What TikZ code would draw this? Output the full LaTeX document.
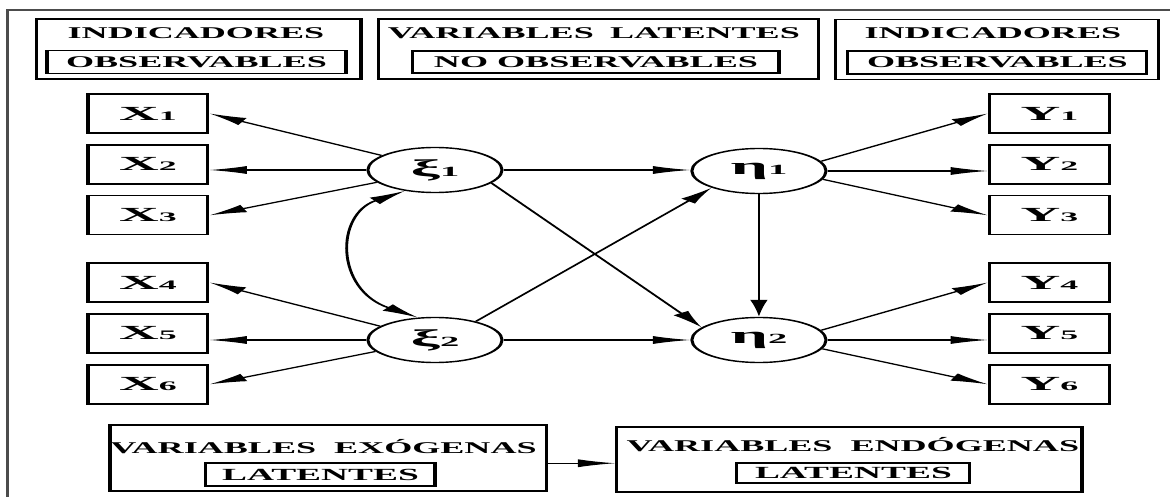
\documentclass[tikz,border=0pt]{standalone}
\usepackage{fontspec}
\setmainfont{Liberation Serif}
\newfontfamily\widefont[FakeStretch=1.25]{Liberation Serif}
\usetikzlibrary{arrows.meta,positioning,shapes.geometric}
\newcommand{\ttl}{\fontsize{16.4}{18}\selectfont\bfseries}
\newcommand{\vlab}[2]{{\widefont\bfseries\fontsize{20}{20}\selectfont #1}{\widefont\bfseries\fontsize{13}{13}\selectfont #2}}
\newcommand{\glab}[2]{{\widefont\bfseries\fontsize{24}{24}\selectfont #1}{\widefont\bfseries\fontsize{14}{14}\selectfont #2}}

\begin{document}
\begin{tikzpicture}[x=1pt, y=-1pt,
    border/.style={line width=1.2pt, black!70},
    topbox/.style={draw, line width=1.4pt, minimum height=60pt, inner sep=0pt},
    tagbox/.style={draw, line width=1.4pt, minimum height=23pt, inner sep=0pt, font=\ttl},
    headtxt/.style={anchor=base, inner sep=0pt, font=\ttl},
    varbox/.style={draw, line width=1.4pt, minimum width=54.5pt, minimum height=39pt, inner sep=0pt},
    latvar/.style={draw, ellipse, line width=1.4pt, minimum width=61pt, minimum height=45pt, inner sep=0pt},
    arr/.style={-{Latex[length=17pt,width=8pt]}, line width=1.2pt},
    dbl/.style={{Latex[length=17pt,width=8pt]}-{Latex[length=17pt,width=8pt]}, line width=1.3pt},
    node distance=10.5pt]

\path[use as bounding box, fill=white] (0,0) rectangle (1170,497);

\begin{scope}[x=0.4545pt, transform canvas={xscale=2.2}]
% frame
\draw[border] (7.5,497) -- (7.5,10) -- (1170,10);

% headings
\node[topbox, minimum width=147.3pt] (indl) at (199,49) {};
\node[headtxt] (indlt) at (196,39) {INDICADORES};
\node[tagbox, minimum width=135.9pt] (obsl) at (196.5,62) {OBSERVABLES};

\node[topbox, minimum width=200pt] (latm) at (599,49) {};
\node[headtxt] (latmt) at (594,39) {VARIABLES\hspace{0.45em}LATENTES};
\node[tagbox, minimum width=166.4pt, minimum height=22pt] (nobs) at (596,62) {NO OBSERVABLES};

\node[topbox, minimum width=146.8pt] (indr) at (997.5,49.5) {};
\node[headtxt] (indrt) at (993,39) {INDICADORES};
\node[tagbox, minimum width=135.9pt] (obsr) at (997.5,62.5) {OBSERVABLES};

% indicators
\node[varbox] (x1) at (148,113.5) {\vlab{X}{1}};
\node[varbox, below=of x1] (x2) {\vlab{X}{2}};
\node[varbox, below=of x2] (x3) {\vlab{X}{3}};
\node[varbox] (x4) at (148,282.5) {\vlab{X}{4}};
\node[varbox, below=of x4] (x5) {\vlab{X}{5}};
\node[varbox, below=of x5] (x6) {\vlab{X}{6}};

\node[varbox] (y1) at (1049.5,113.5) {\vlab{Y}{1}};
\node[varbox, below=of y1] (y2) {\vlab{Y}{2}};
\node[varbox, below=of y2] (y3) {\vlab{Y}{3}};
\node[varbox] (y4) at (1049.5,282.5) {\vlab{Y}{4}};
\node[varbox, below=of y4] (y5) {\vlab{Y}{5}};
\node[varbox, below=of y5] (y6) {\vlab{Y}{6}};

% latent variables
\node[latvar] (xi1) at (435,170) {\glab{ξ}{1}};
\node[latvar] (xi2) at (435,340) {\glab{ξ}{2}};
\node[latvar] (eta1) at (759,171) {\glab{η}{1}};
\node[latvar] (eta2) at (759,340) {\glab{η}{2}};

% legend
\node[topbox, minimum width=198.6pt, minimum height=66pt] (exo) at (328.5,458) {};
\node[headtxt] (exot) at (323.5,453) {VARIABLES\hspace{0.5em}EXÓGENAS};
\node[tagbox, minimum width=104.1pt] (exol) at (320.5,474.5) {\fontsize{17}{17}\selectfont LATENTES};

\node[topbox, minimum width=211.4pt, minimum height=65pt] (endo) at (849.5,459.5) {};
\node[headtxt] (endot) at (853,451) {VARIABLES\hspace{0.5em}ENDÓGENAS};
\node[tagbox, minimum width=105.9pt, minimum height=20pt] (endol) at (853.5,473) {\fontsize{17}{17}\selectfont LATENTES};

% loadings
\draw[arr] (xi1.149) -- (x1.east);
\draw[arr] (xi1.west) -- (xi1.west -| x2.east);
\draw[arr] (xi1.205) -- (x3.east);
\draw[arr] (xi2.151) -- (x4.east);
\draw[arr] (xi2.west) -- (xi2.west -| x5.east);
\draw[arr] (xi2.203) -- (x6.east);

\draw[arr] (eta1.19) -- (y1.west);
\draw[arr] (eta1.east) -- (eta1.east -| y2.west);
\draw[arr] (eta1.-16) -- (y3.west);
\draw[arr] (eta2.19) -- (y4.west);
\draw[arr] (eta2.east) -- (eta2.east -| y5.west);
\draw[arr] (eta2.-17) -- (y6.west);

% structural paths
\draw[dbl] (xi1.237) .. controls (335,214) and (335,290) .. (xi2.109);
\draw[arr] (xi1.east) -- (xi1.east -| eta1.west);
\draw[arr] (xi2.east) -- (eta2.west);
\draw[arr] (xi1.-27) -- (eta2.154);
\draw[arr] (xi2.45) -- (eta1.218);
\draw[arr] (eta1) -- (eta2);

\draw[arr] (exo.-3) -- (exo.-3 -| endo.west);
\end{scope}
\end{tikzpicture}
\end{document}
